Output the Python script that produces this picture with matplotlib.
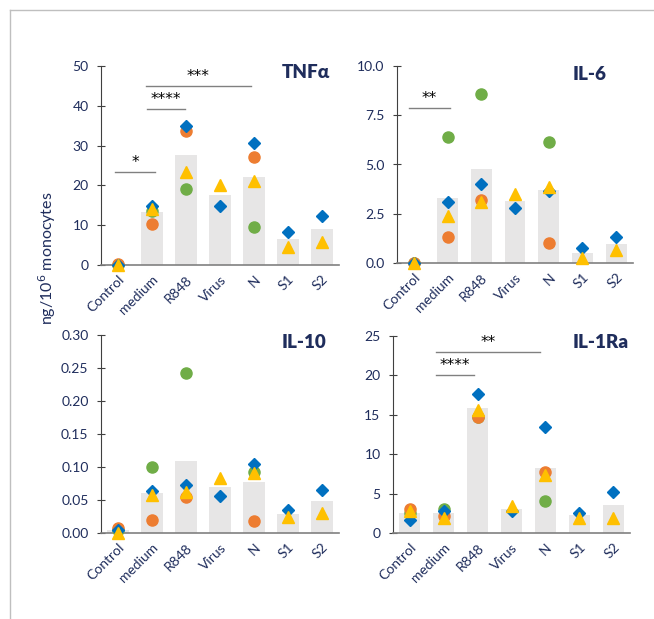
import matplotlib.pyplot as plt
import numpy as np
from matplotlib.lines import Line2D

plt.rcParams['font.family'] = ['Lato', 'DejaVu Sans']

categories = ["Control", "medium", "R848", "Virus", "N", "S1", "S2"]
nan = np.nan

# TNFa (ng/10^6 monocytes)
tnf_mean = [0.2, 13.2, 27.7, 17.5, 22.2, 6.5, 9.0]
tnf_blue = [0.0, 14.8, 35.0, 14.7, 30.7, 8.4, 12.2]
tnf_orange = [0.3, 10.3, 33.6, nan, 27.1, nan, nan]
tnf_green = [0.0, 13.5, 19.2, nan, 9.6, nan, nan]
tnf_yellow = [0.0, 14.0, 23.3, 20.2, 21.2, 4.5, 5.8]

# IL-6
il6_mean = [0.02, 3.3, 4.75, 3.15, 3.7, 0.5, 0.95]
il6_blue = [0.0, 3.1, 4.0, 2.8, 3.65, 0.75, 1.3]
il6_orange = [0.0, 1.3, 3.2, nan, 1.0, nan, nan]
il6_green = [0.0, 6.4, 8.6, nan, 6.15, nan, nan]
il6_yellow = [0.0, 2.4, 3.1, 3.5, 3.85, 0.25, 0.65]

# IL-10
il10_mean = [0.004, 0.060, 0.109, 0.070, 0.078, 0.029, 0.048]
il10_blue = [0.005, 0.064, 0.073, 0.056, 0.105, 0.035, 0.065]
il10_orange = [0.008, 0.020, 0.054, nan, 0.018, nan, nan]
il10_green = [0.005, 0.100, 0.243, nan, 0.092, nan, nan]
il10_yellow = [0.0, 0.057, 0.062, 0.083, 0.091, 0.024, 0.031]

# IL-1Ra
il1ra_mean = [2.6, 2.6, 15.8, 3.1, 8.2, 2.3, 3.6]
il1ra_blue = [1.7, 2.8, 17.6, 2.8, 13.5, 2.6, 5.2]
il1ra_orange = [3.1, 2.2, 14.7, nan, 7.8, nan, nan]
il1ra_green = [2.5, 3.0, 14.7, nan, 4.1, nan, nan]
il1ra_yellow = [2.8, 1.9, 15.6, 3.4, 7.3, 1.9, 1.9]

# significance brackets: (from, to, height, stars)
tnf_sig = [(-0.08, 1.1, 23.3, "*"), (0.86, 1.98, 39.1, "****"), (0.83, 3.9, 45.1, "***")]
il6_sig = [(-0.13, 1.06, 7.86, "**")]
il10_sig = []
il1ra_sig = [(0.78, 1.9, 20.0, "****"), (0.76, 3.84, 23.0, "**")]

navy = "#1F2D5C"
blue, orange, green, yellow = "#0070C0", "#ED7D31", "#70AD47", "#FFC000"
bar_color = "#E7E6E6"

W, H = 654, 619
fig = plt.figure(figsize=(W / 100, H / 100), dpi=100)

# outer frame (left and top)
fig.add_artist(Line2D([10 / W, 10 / W], [0, 1 - 10 / H], transform=fig.transFigure, color="#BFBFBF", lw=1))
fig.add_artist(Line2D([10 / W, 1], [1 - 10 / H, 1 - 10 / H], transform=fig.transFigure, color="#BFBFBF", lw=1))

panels = [
    # axes box (px), title, title pos, data, ymax, yticks, fmt, sig
    ((101, 66, 339, 265), "TNFα", (282, 73), tnf_mean, tnf_blue, tnf_orange, tnf_green, tnf_yellow,
     50, np.arange(0, 51, 10), "{:.0f}", tnf_sig),
    ((397, 66, 633, 263), "IL-6", (573, 74), il6_mean, il6_blue, il6_orange, il6_green, il6_yellow,
     10, np.arange(0, 10.01, 2.5), "{:.1f}", il6_sig),
    ((101, 335, 339, 533), "IL-10", (282, 342), il10_mean, il10_blue, il10_orange, il10_green, il10_yellow,
     0.30, np.arange(0, 0.301, 0.05), "{:.2f}", il10_sig),
    ((393, 336, 630, 533), "IL-1Ra", (573, 343), il1ra_mean, il1ra_blue, il1ra_orange, il1ra_green, il1ra_yellow,
     25, np.arange(0, 26, 5), "{:.0f}", il1ra_sig),
]

x = np.arange(len(categories))
for (l, t, r, b), title, (tx, ty), mean, sb, so, sg, sy, ymax, yt, fmt, sig in panels:
    ax = fig.add_axes([l / W, 1 - b / H, (r - l) / W, (b - t) / H])
    ax.bar(x, mean, width=0.62, color=bar_color, zorder=1)
    ax.plot(x, sg, "o", color=green, ms=8, zorder=3, clip_on=False)
    ax.plot(x, so, "o", color=orange, ms=8, zorder=3, clip_on=False)
    ax.plot(x, sb, "D", color=blue, ms=6.5, zorder=4, clip_on=False)
    ax.plot(x, sy, "^", color=yellow, ms=9, zorder=5, clip_on=False)
    for x0, x1, yv, stars in sig:
        ax.plot([x0, x1], [yv, yv], color="#808080", lw=1, zorder=2)
        ax.text((x0 + x1) / 2, yv + ymax * 0.01, stars, ha="center", va="bottom",
                fontsize=11, color="black", family="DejaVu Sans")
    ax.set_xlim(-0.5, len(categories) - 0.5)
    ax.set_ylim(0, ymax)
    ax.set_yticks(yt)
    ax.set_yticklabels([fmt.format(v) for v in yt], color=navy, fontsize=10)
    ax.set_xticks(x)
    ax.set_xticklabels(categories, rotation=45, ha="right", rotation_mode="anchor",
                       color=navy, fontsize=10)
    ax.tick_params(axis="x", length=0, pad=6)
    ax.tick_params(axis="y", direction="inout", length=6, width=0.8, color="#404040", pad=6)
    for s in ["top", "right"]:
        ax.spines[s].set_visible(False)
    ax.spines["left"].set_color("#404040")
    ax.spines["left"].set_linewidth(0.8)
    ax.spines["bottom"].set_color("#808080")
    ax.spines["bottom"].set_linewidth(1.2)
    ax.patch.set_alpha(0)
    fig.text(tx / W, 1 - ty / H, title, ha="left", va="center", fontsize=13.5,
             fontweight="heavy", color=navy)

fig.text(47 / W, 1 - 258 / H, "ng/10$^6$ monocytes", rotation=90, ha="center", va="center",
         fontsize=11.5, color=navy)

fig.savefig("out.png", dpi=100)
